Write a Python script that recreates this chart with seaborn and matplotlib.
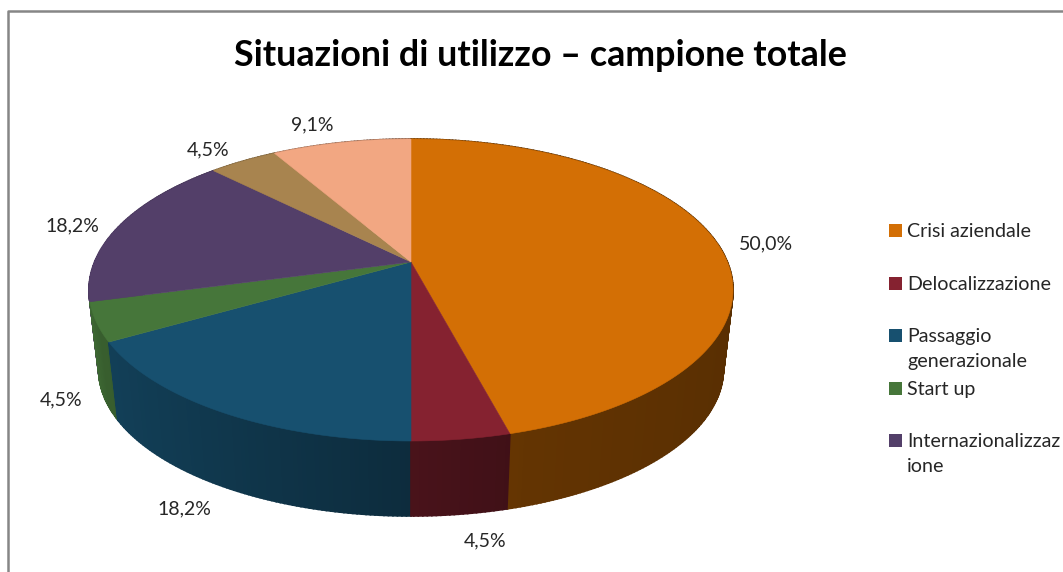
import numpy as np
import seaborn as sns
import matplotlib.pyplot as plt
from matplotlib.patches import Rectangle

# data, as printed on the chart
slices = ['Crisi aziendale', 'Delocalizzazione', 'Passaggio\ngenerazionale', 'Start up',
          'Internazionalizzaz\nione', 'Altro 1', 'Altro 2']
values = [50.0, 4.5, 18.2, 4.5, 18.2, 4.5, 9.1]
value_labels = ['50,0%', '4,5%', '18,2%', '4,5%', '18,2%', '4,5%', '9,1%']
colors = ['#D36F05', '#852230', '#17506F', '#46763A', '#533F69', '#A8844F', '#F2A782']
legend_count = 5  # the legend is cut off, last two never show up

# where the labels sit, in pixels
label_xy = [(766, 244), (485, 541), (184, 509), (61, 400), (72, 226), (208, 150), (312, 125)]

sns.set_theme(style='white')
plt.rcParams['font.family'] = ['Lato', 'DejaVu Sans']
palette = sns.color_palette(colors)

fig = plt.figure(figsize=(10.63, 5.72), dpi=100)
ax = fig.add_axes([0, 0, 1, 1])
ax.set_xlim(0, 1063)
ax.set_ylim(572, 0)
ax.axis('off')

# perspective of the disc: the middle of the pie is not the middle of the ellipse
cx, cy = 411, 262
back, front, half_w = 123, 179, 322
k = (front - back) / (front + back)
A = back * (1 + k)
B = half_w * np.sqrt(1 - k**2)
ell_y = cy + (front - back) / 2
bottom_scale, bottom_cy = 0.97, 369.5


def top_xy(theta):
    u, v = np.sin(theta), np.cos(theta)
    return cx + B * u / (1 + k * v), cy - A * v / (1 + k * v)


def bottom_xy(theta):
    x, y = top_xy(theta)
    return cx + bottom_scale * (x - cx), bottom_cy + bottom_scale * (y - ell_y)


def side_shade(theta):
    return np.interp(np.sin(theta), [-1, -0.9, 0, 0.3, 1], [0.95, 0.8, 0.55, 0.47, 0.42])


edges = np.cumsum([0] + values) / sum(values) * 2 * np.pi

# side strips first, from the back to the front
strips = []
for i, col in enumerate(palette):
    steps = np.arange(edges[i], edges[i + 1], 0.012).tolist() + [edges[i + 1]]
    for a, b in zip(steps[:-1], steps[1:]):
        strips.append((np.cos((a + b) / 2), a, b, col))
strips.sort(key=lambda s: -s[0])
for _, a, b, col in strips:
    xa, ya = top_xy(a)
    xb, yb = top_xy(b)
    xc, yc = bottom_xy(b)
    xd, yd = bottom_xy(a)
    shaded = tuple(np.array(col) * side_shade((a + b) / 2))
    ax.fill([xa, xb, xc, xd], [ya, yb, yc, yd], color=shaded, lw=1.2, zorder=2)

# top of the pie
for i, col in enumerate(palette):
    theta = np.linspace(edges[i], edges[i + 1], 200)
    x, y = top_xy(theta)
    ax.fill(np.r_[cx, x], np.r_[cy, y], color=col, lw=0.4, zorder=3)

for txt, (x, y) in zip(value_labels, label_xy):
    ax.text(x, y, txt, ha='center', va='center', fontsize=14, color='#262626')

# legend
for i in range(legend_count):
    y = 230.5 + i * 52.5
    ax.add_patch(Rectangle((889, y - 6.5), 13, 13, color=palette[i], lw=0))
    ax.text(907, y - 7.5, slices[i], ha='left', va='top', fontsize=14.1, color='#262626',
            linespacing=1.6)

ax.text(540, 55, 'Situazioni di utilizzo – campione totale', ha='center', va='center',
        fontsize=25.8, fontweight='bold', color='black')

# frame of the chart, only top and left are in the picture
ax.plot([8, 8, 1063], [572, 11, 11], color='#868686', lw=1.8, zorder=5)

fig.savefig('out.png', dpi=100)
